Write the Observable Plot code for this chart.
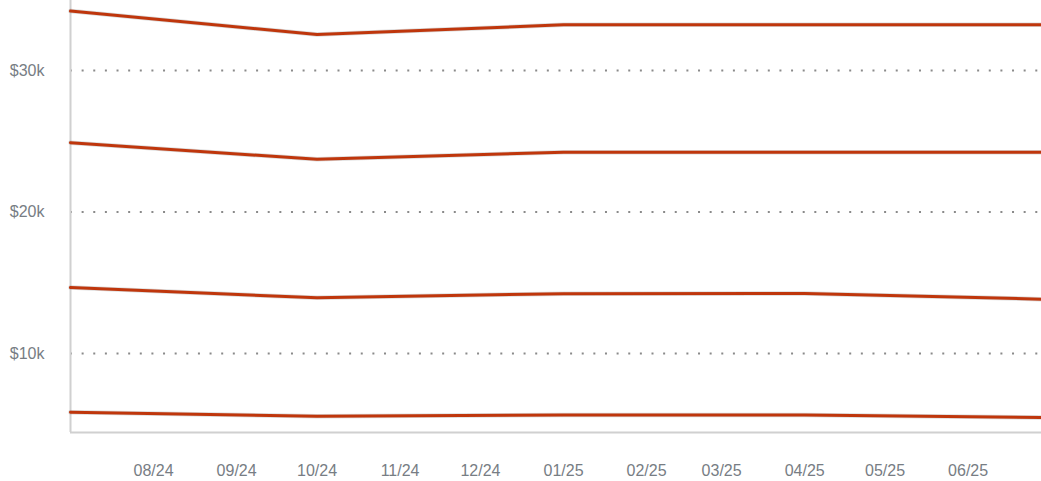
<!DOCTYPE html>
<html>
<head>
<meta charset="utf-8">
<script src="https://cdn.jsdelivr.net/npm/d3@7"></script>
<script src="https://cdn.jsdelivr.net/npm/@observablehq/plot@0.6"></script>
<style>
  html, body { margin: 0; padding: 0; background: #fff; }
  #chart svg { display: block; }
</style>
</head>
<body>
<div id="chart"></div>
<script>
// Quarterly dates
const dates = ["2024-07-01", "2024-10-01", "2025-01-01", "2025-04-01", "2025-07-01"];
// Four series (USD)
const series1 = [34200, 32550, 33230, 33230, 33230];
const series2 = [24900, 23730, 24230, 24230, 24230];
const series3 = [14660, 13940, 14230, 14240, 13830];
const series4 = [5850, 5570, 5660, 5650, 5480];
const seriesNames = ["s1", "s2", "s3", "s4"];
const seriesValues = [series1, series2, series3, series4];
// Axis ticks
const yTicks = [10000, 20000, 30000];
const xTickMonths = ["2024-08-01","2024-09-01","2024-10-01","2024-11-01","2024-12-01","2025-01-01","2025-02-01","2025-03-01","2025-04-01","2025-05-01","2025-06-01"];
const xDomain = ["2024-07-01", "2025-07-01"];
const yDomain = [4420, 34950];

const parse = d3.utcParse("%Y-%m-%d");
const rows = [];
seriesNames.forEach((name, i) => {
  dates.forEach((d, j) => rows.push({series: name, date: parse(d), value: seriesValues[i][j]}));
});

const lineColor = "#bf360c";
const textColor = "#777d84";

const chart = Plot.plot({
  width: 1041,
  height: 481,
  marginLeft: 70,
  marginRight: -7,
  marginTop: 0,
  marginBottom: 49,
  style: {fontFamily: "'Liberation Sans', Arial, sans-serif", fontSize: "16px", color: textColor, background: "#fff"},
  x: {type: "utc", domain: xDomain.map(parse)},
  y: {domain: yDomain},
  marks: [
    Plot.gridY(yTicks, {stroke: "#8a8a8a", strokeOpacity: 1, strokeWidth: 2, strokeDasharray: "2,9.63"}),
    Plot.ruleX([parse(xDomain[0])], {stroke: "#d0d0d0", strokeWidth: 2}),
    Plot.ruleY([yDomain[0]], {stroke: "#d0d0d0", strokeWidth: 2}),
    Plot.line(rows, {x: "date", y: "value", z: "series", stroke: "#999", strokeOpacity: 0.35, strokeWidth: 4.5}),
    Plot.line(rows, {x: "date", y: "value", z: "series", stroke: lineColor, strokeWidth: 3}),
    Plot.axisY(yTicks, {tickSize: 0, tickPadding: 26, tickFormat: d => `$${d / 1000}k`, label: null, fontSize: 16}),
    Plot.axisX(xTickMonths.map(parse), {tickSize: 0, tickPadding: 32, tickFormat: d3.utcFormat("%m/%y"), label: null, fontSize: 16})
  ]
});
document.getElementById("chart").appendChild(chart);
</script>
</body>
</html>
